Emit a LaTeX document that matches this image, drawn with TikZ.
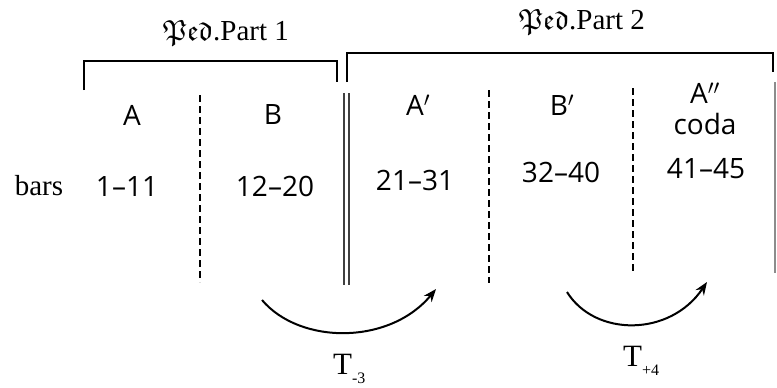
\documentclass[tikz,border=0pt]{standalone}
\usepackage{amssymb}
\usepackage{fontspec}
\setmainfont{Liberation Serif}
\newfontfamily\labfont{Open Sans}
\usetikzlibrary{arrows.meta}
\tikzset{
  bracketline/.style={line width=1.8pt, line cap=butt},
  divline/.style={line width=2pt, dash pattern=on 7pt off 4pt},
  dblline/.style={line width=1.4pt, black!75},
  edgeline/.style={line width=1.2pt, black!45},
  transarrow/.style={line width=2pt, -{Stealth[length=13pt,width=10pt]}},
  seclab/.style={font=\labfont\fontsize{28}{30}\selectfont, inner sep=0pt},
  pedlab/.style={font=\fontsize{29}{31}\selectfont, inner sep=0pt},
  serlab/.style={font=\fontsize{29}{31}\selectfont, inner sep=0pt},
  tlab/.style={font=\fontsize{31}{33}\selectfont, inner sep=0pt},
}
\newcommand{\tsub}[1]{\raisebox{-9pt}{\fontsize{16}{18}\selectfont #1}}
\begin{document}
\begin{tikzpicture}[x=1pt,y=-1pt]
\useasboundingbox (0,0) rectangle (777,388);
% pedal labels
\node[pedlab] (p1) at (226,33) {$\mathfrak{Ped}$.Part 1};
\node[pedlab] (p2) at (582,22) {$\mathfrak{Ped}$.Part 2};
% brackets
\draw[bracketline] (84,90) -- (84,61) -- (337,61) -- (337,82);
\draw[bracketline] (347,82) -- (347,53) -- (773,53) -- (773,72);
\draw[edgeline] (775,82) -- (775,273);
% double bar
\draw[dblline] (344,93) -- (344,285);
\draw[dblline] (349,93) -- (349,285);
% dashed dividers
\draw[divline] (200,95) -- (200,282);
\draw[divline] (489,90) -- (489,283);
\draw[divline] (633,88) -- (633,272);
% section letters
\node[seclab] (sA) at (132,115) {A};
\node[seclab] (sB) at (273,115) {B};
\node[seclab] (sA1) at (418,105) {A$'$};
\node[seclab] (sB1) at (562,105) {B$'$};
\node[seclab] (sA2) at (705,93) {A$''$};
\node[seclab] (coda) at (705,124) {coda};
% bars
\node[serlab] (bars) at (39,186) {bars};
\node[seclab] (b1) at (127,187) {1\textendash 11};
\node[seclab] (b2) at (275,186) {12\textendash 20};
\node[seclab] (b3) at (415,180) {21\textendash 31};
\node[seclab] (b4) at (561,172) {32\textendash 40};
\node[seclab] (b5) at (706,169) {41\textendash 45};
% transposition arrows
\coordinate (a1s) at (262,300);
\coordinate (a1e) at (436,289);
\coordinate (a2s) at (567,292);
\coordinate (a2e) at (707,282);
\draw[transarrow] (a1s) .. controls (300,345) and (390,345) .. (a1e);
\draw[transarrow] (a2s) .. controls (595,337) and (670,337) .. (a2e);
\node[tlab, anchor=base west] (t1) at (333,374) {T\tsub{-3}};
\node[tlab, anchor=base west] (t2) at (623,366) {T\tsub{+4}};
\end{tikzpicture}
\end{document}
